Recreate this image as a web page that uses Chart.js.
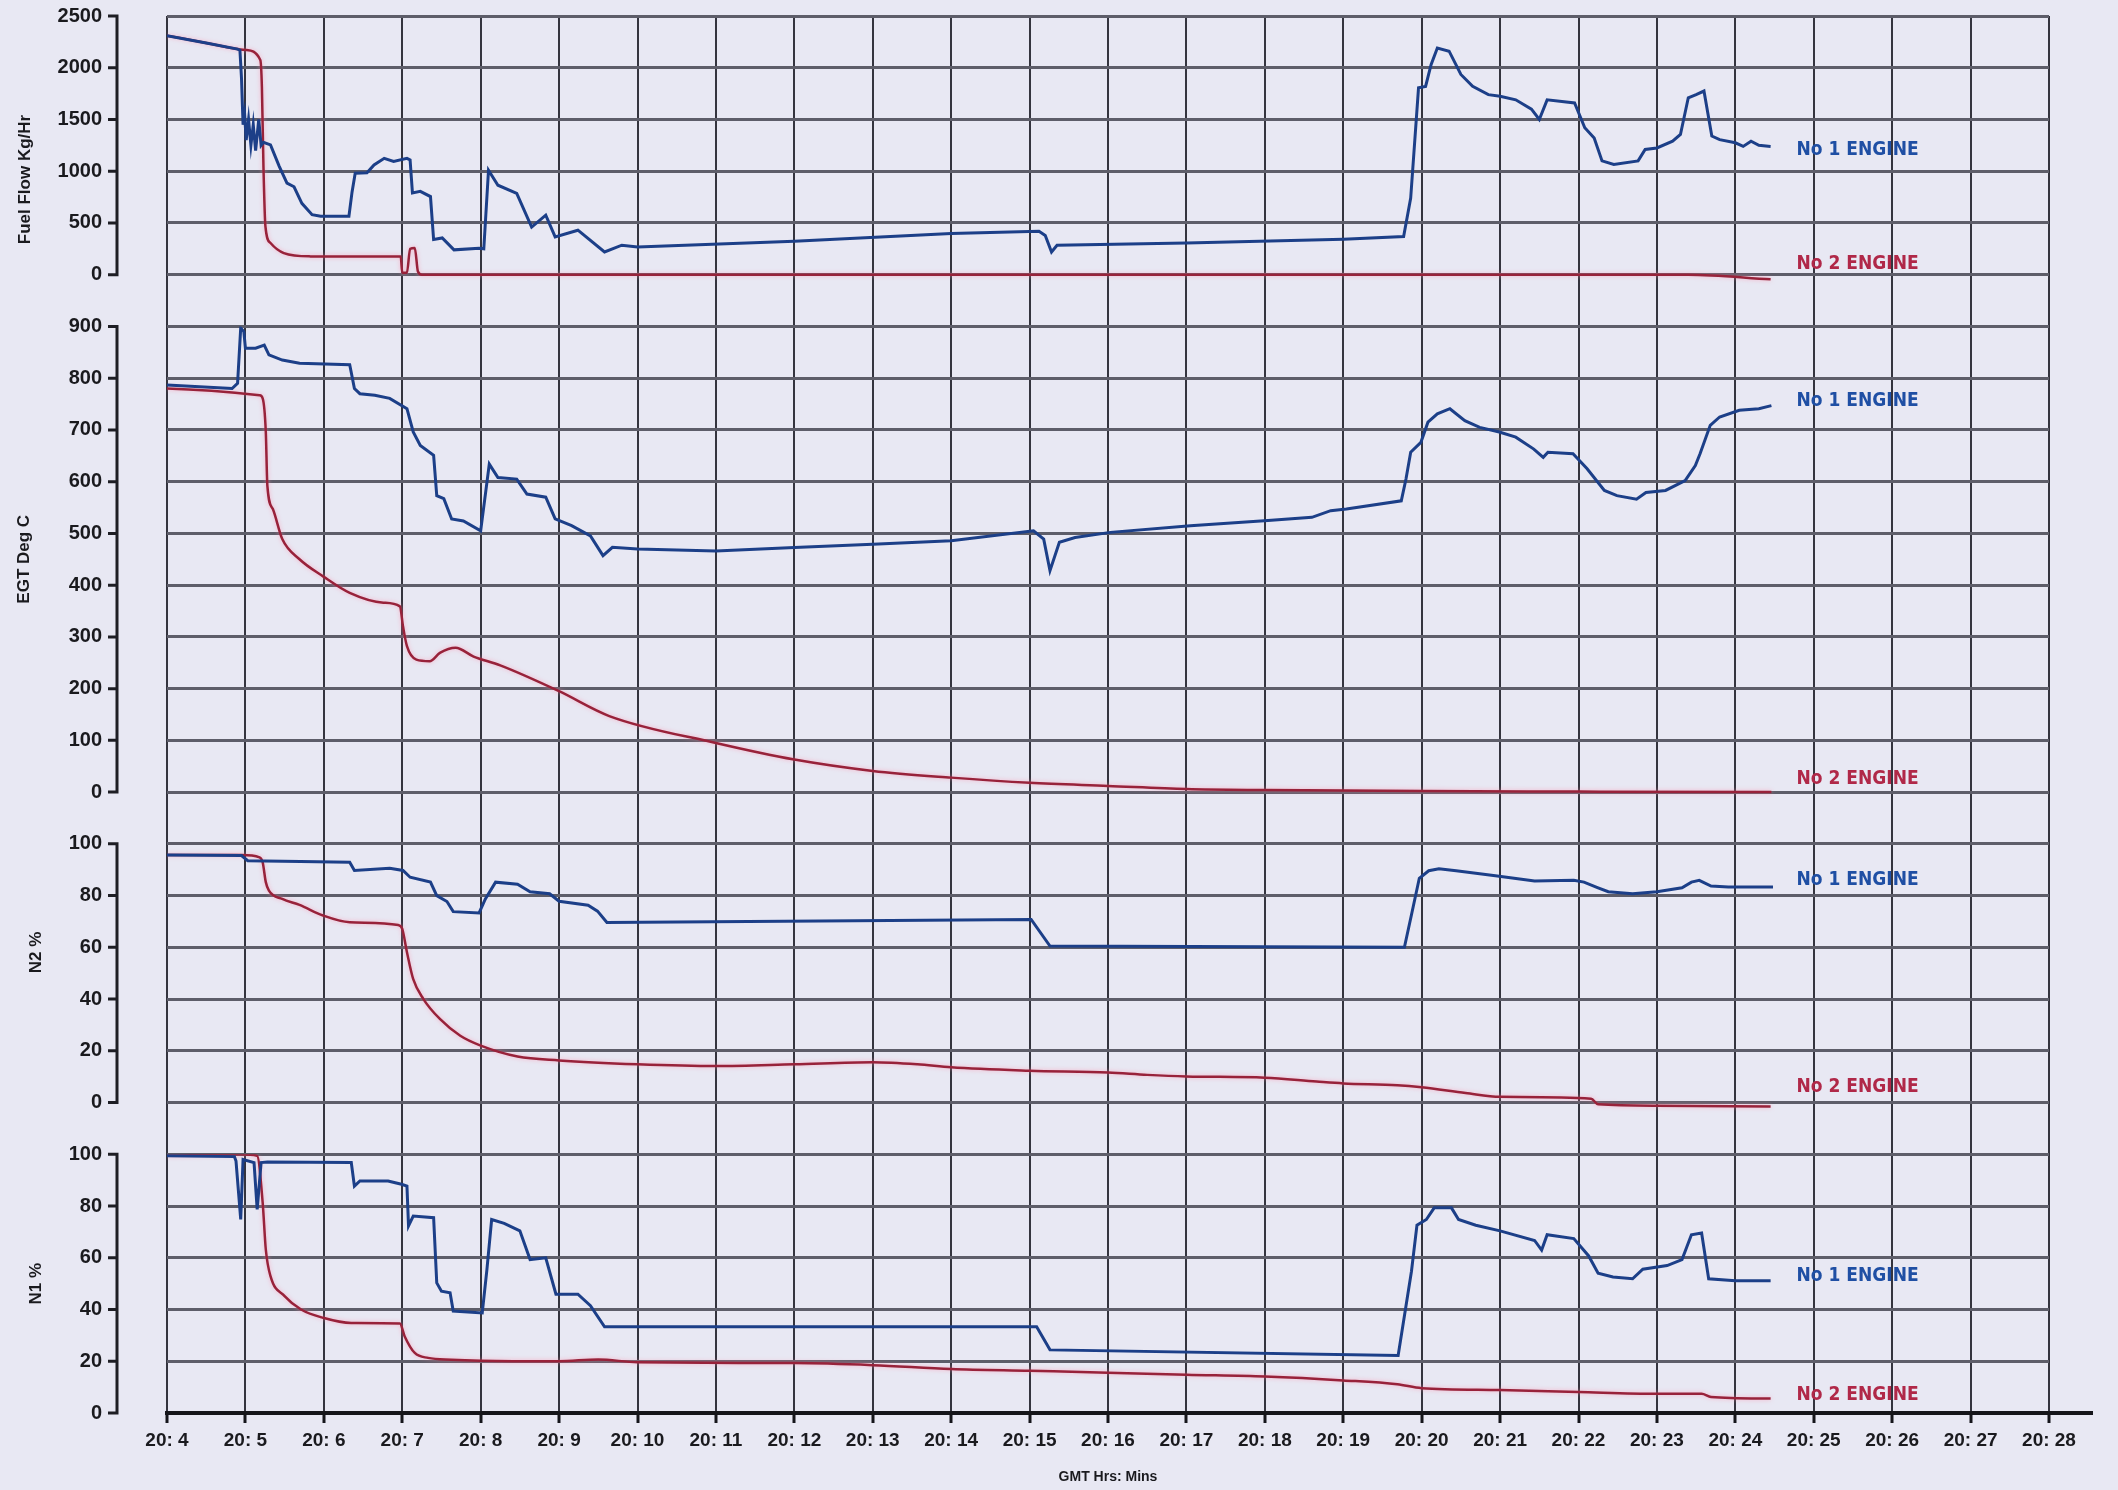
<!DOCTYPE html>
<html>
<head>
<meta charset="utf-8">
<script src="https://cdn.jsdelivr.net/npm/chart.js@4.4.1/dist/chart.umd.min.js"></script>
<style>
  html, body { margin: 0; padding: 0; background: #e8e8f3; }
  canvas { display: block; }
</style>
</head>
<body>
<canvas id="grafico" width="2118" height="1490"></canvas>
<script>
// eje x: minutos despues de las 20:00
const minutos = [4, 5, 6, 7, 8, 9, 10, 11, 12, 13, 14, 15, 16, 17, 18, 19, 20, 21, 22, 23, 24, 25, 26, 27, 28];
const etiquetasHora = ['20: 4', '20: 5', '20: 6', '20: 7', '20: 8', '20: 9', '20: 10', '20: 11', '20: 12',
  '20: 13', '20: 14', '20: 15', '20: 16', '20: 17', '20: 18', '20: 19', '20: 20', '20: 21', '20: 22',
  '20: 23', '20: 24', '20: 25', '20: 26', '20: 27', '20: 28'];

// Fuel Flow Kg/Hr  [minuto, valor]
const fuelMotor1 = [[4.0, 2310], [4.5, 2240], [4.9, 2180], [4.93, 2170], [4.95, 1900], [4.97, 1450], [4.99, 1550],
  [5.01, 1300], [5.04, 1500], [5.07, 1250], [5.1, 1450], [5.13, 1200], [5.17, 1500], [5.2, 1250], [5.23, 1280],
  [5.32, 1255], [5.43, 1050], [5.53, 885], [5.62, 850], [5.72, 690], [5.85, 580], [5.96, 565], [6.32, 565],
  [6.36, 800], [6.4, 980], [6.55, 985], [6.64, 1060], [6.77, 1125], [6.89, 1095], [7.06, 1125], [7.1, 1110],
  [7.13, 790], [7.23, 805], [7.36, 755], [7.4, 340], [7.51, 355], [7.66, 240], [7.98, 255], [8.04, 250],
  [8.1, 1010], [8.22, 865], [8.46, 785], [8.65, 460], [8.83, 575], [8.95, 365], [9.24, 430], [9.58, 220],
  [9.8, 285], [10, 268], [12, 323], [14, 397], [15.12, 420], [15.2, 380], [15.28, 220], [15.35, 285], [17, 306],
  [19, 342], [19.77, 368], [19.86, 740], [19.96, 1806], [20.05, 1820], [20.12, 2030], [20.2, 2190], [20.35, 2160],
  [20.5, 1935], [20.65, 1820], [20.85, 1740], [21.0, 1725], [21.2, 1690], [21.4, 1600], [21.5, 1500], [21.6, 1690],
  [21.95, 1660], [22.08, 1420], [22.2, 1320], [22.3, 1100], [22.45, 1065], [22.76, 1100], [22.85, 1210],
  [23.0, 1225], [23.2, 1290], [23.3, 1355], [23.4, 1710], [23.5, 1740], [23.6, 1775], [23.7, 1340], [23.8, 1305],
  [24.0, 1275], [24.1, 1240], [24.2, 1290], [24.3, 1250], [24.45, 1240]];
const fuelMotor2 = [[4.0, 2310], [4.5, 2240], [5.0, 2172], [5.19, 2075], [5.21, 1818], [5.23, 1046], [5.255, 467],
  [5.32, 306], [5.49, 209], [5.83, 177], [6.5, 175], [6.98, 177], [7.0, 20], [7.06, 20], [7.1, 250], [7.16, 257],
  [7.2, 30], [7.25, 0], [23.4, 0], [24.45, -45]];

// EGT Deg C
const egtMotor1 = [[4.0, 787], [4.83, 780], [4.9, 790], [4.94, 897], [4.98, 890], [5.0, 858], [5.13, 858],
  [5.24, 864], [5.3, 845], [5.47, 835], [5.69, 829], [6.33, 826], [6.39, 780], [6.46, 770], [6.65, 767],
  [6.84, 761], [7.06, 741], [7.14, 696], [7.23, 670], [7.4, 651], [7.44, 573], [7.53, 567], [7.63, 528],
  [7.78, 524], [8.0, 505], [8.11, 634], [8.22, 608], [8.46, 605], [8.59, 576], [8.83, 570], [8.95, 528],
  [9.16, 515], [9.4, 495], [9.56, 457], [9.68, 473], [10, 470], [11, 466], [12, 473], [13, 479], [14, 486],
  [15.05, 505], [15.18, 489], [15.26, 428], [15.38, 483], [15.58, 492], [16.03, 502], [17.05, 515], [18.04, 525],
  [18.6, 531], [18.84, 544], [19.04, 547], [19.74, 563], [19.8, 605], [19.86, 657], [19.99, 676], [20.08, 715],
  [20.2, 731], [20.36, 741], [20.55, 718], [20.74, 705], [20.99, 696], [21.2, 686], [21.43, 663], [21.55, 647],
  [21.61, 657], [21.93, 654], [22.11, 625], [22.33, 583], [22.49, 573], [22.74, 566], [22.86, 579], [23.11, 583],
  [23.36, 602], [23.49, 631], [23.55, 654], [23.68, 709], [23.8, 725], [24.05, 738], [24.3, 741], [24.46, 747]];
const egtMotor2 = [[4.0, 780], [5.18, 767], [5.22, 761], [5.26, 696], [5.28, 592], [5.35, 547], [5.47, 489],
  [5.69, 450], [5.99, 417], [6.33, 385], [6.76, 366], [6.97, 359], [7.01, 320], [7.06, 282], [7.18, 256],
  [7.35, 253], [7.48, 269], [7.68, 279], [7.91, 262], [8.25, 245], [9.0, 195], [9.64, 147], [11, 95], [12, 63],
  [13, 41], [14, 28], [15, 18], [16, 12], [17, 6], [18, 4], [20, 2], [22, 1], [24.46, 0]];

// N2 %
const n2Motor1 = [[4.0, 95.7], [4.95, 95.5], [5.03, 93.5], [5.7, 93.2], [6.33, 92.9], [6.39, 89.7], [6.84, 90.6],
  [7.01, 89.7], [7.1, 87.1], [7.36, 85.2], [7.44, 80], [7.57, 77.7], [7.65, 73.8], [7.98, 73.3], [8.06, 78.7],
  [8.19, 85.2], [8.47, 84.4], [8.63, 81.5], [8.88, 80.7], [9.0, 77.8], [9.37, 76.3], [9.49, 74], [9.61, 69.6],
  [15.02, 70.8], [15.26, 60.5], [19.78, 60], [19.87, 72.6], [19.97, 86.7], [20.09, 89.6], [20.22, 90.4],
  [20.44, 89.6], [20.94, 87.7], [21.44, 85.6], [21.94, 85.9], [22.07, 85.2], [22.25, 83], [22.38, 81.5],
  [22.69, 80.7], [23.0, 81.5], [23.32, 83], [23.44, 85.2], [23.54, 85.9], [23.69, 83.7], [23.91, 83.3],
  [24.48, 83.3]];
const n2Motor2 = [[4.0, 95.7], [4.95, 95.7], [5.18, 94.8], [5.22, 92.9], [5.26, 85.2], [5.3, 81.9], [5.47, 78.7],
  [5.69, 76.4], [5.99, 72.3], [6.33, 69.7], [6.95, 68.6], [7.0, 67.1], [7.06, 58.1], [7.14, 47.7], [7.27, 40],
  [7.48, 32.3], [7.74, 25.8], [8.0, 22], [8.47, 17.8], [9.0, 16.3], [10, 14.8], [11, 14.1], [12, 14.8], [13, 15.6],
  [13.57, 14.8], [14, 13.6], [15, 12.3], [16, 11.6], [16.5, 10.7], [17, 10.1], [18, 9.6], [18.66, 8.1], [19, 7.4],
  [19.69, 6.7], [20, 5.9], [20.56, 3.7], [21, 2.2], [22.16, 1.5], [22.25, -0.7], [23, -1.2], [24.45, -1.5]];

// N1 %
const n1Motor1 = [[4.0, 99.4], [4.86, 99.1], [4.88, 97.4], [4.94, 74.8], [4.97, 98], [5.11, 96.8], [5.15, 78.7],
  [5.2, 96.8], [5.28, 97], [6.35, 96.8], [6.39, 87.7], [6.46, 89.7], [6.82, 89.7], [6.99, 88.4], [7.06, 87.7],
  [7.08, 72.3], [7.14, 76.1], [7.4, 75.5], [7.44, 50.3], [7.5, 47.1], [7.61, 46.5], [7.65, 39.4], [8.02, 38.7],
  [8.08, 55.5], [8.14, 74.8], [8.3, 73.3], [8.5, 70.4], [8.63, 59.3], [8.83, 60], [8.96, 45.9], [9.24, 45.9],
  [9.4, 41.5], [9.58, 33.3], [15.09, 33.3], [15.26, 24.4], [19.7, 22.2], [19.87, 54.8], [19.94, 72.6],
  [20.06, 74.8], [20.16, 79.3], [20.38, 79.3], [20.47, 74.8], [20.69, 72.6], [21.0, 70.4], [21.44, 66.7],
  [21.53, 63], [21.6, 68.9], [21.94, 67.4], [22.13, 60.7], [22.25, 54], [22.44, 52.6], [22.69, 51.9],
  [22.82, 55.6], [23.13, 57], [23.32, 59.3], [23.44, 68.9], [23.57, 69.6], [23.66, 51.9], [24.0, 51.1],
  [24.45, 51.1]];
const n1Motor2 = [[4.0, 99.4], [4.94, 100], [5.15, 99.4], [5.22, 81.3], [5.26, 63.2], [5.32, 52.9], [5.5, 45.2],
  [5.71, 40], [5.99, 36.8], [6.35, 34.8], [6.97, 34.6], [7.03, 29.7], [7.16, 23.2], [7.33, 21.3], [7.63, 20.6],
  [8.0, 20.2], [9.0, 20], [9.5, 20.7], [10, 19.6], [12, 19.3], [13, 18.5], [14, 17], [15, 16.3], [16, 15.6],
  [17, 14.8], [18, 14.1], [19, 12.6], [19.69, 11.1], [20, 9.6], [21, 8.9], [22, 8.1], [23, 7.4], [23.57, 7.4],
  [23.69, 6.2], [24.45, 5.6]];

const AZUL = '#1c3f88';
const ROJO = '#98223a';
const fuente = '"Liberation Sans", Arial, sans-serif';
const fuenteEstrecha = '"Liberation Sans Narrow", "DejaVu Sans Condensed", sans-serif';

const puntos = arr => arr.map(([x, y]) => ({ x, y }));

// cada panel: su eje, rango visible y titulo
const paneles = [
  { eje: 'yFuel', max: 2500, paso: 500, titulo: 'Fuel Flow Kg/Hr', tituloV: 920, tituloX: 25, motor1: 1200, motor2: 100 },
  { eje: 'yEgt', max: 900, paso: 100, titulo: 'EGT Deg C', tituloV: 450, tituloX: 24, motor1: 755, motor2: 25 },
  { eje: 'yN2', max: 100, paso: 20, titulo: 'N2 %', tituloV: 58, tituloX: 36, motor1: 86, motor2: 6 },
  { eje: 'yN1', max: 100, paso: 20, titulo: 'N1 %', tituloV: 50, tituloX: 36, motor1: 53, motor2: 7 }
];

// linea de eje y separada de la grilla, titulos y rotulos de motor
const ejesIzquierda = {
  id: 'ejesIzquierda',
  beforeDatasetDraw(chart, args) {
    const ds = chart.data.datasets[args.index];
    chart.ctx.save();
    if (ds.borderColor === ROJO) {
      chart.ctx.shadowColor = 'rgba(255, 140, 170, 0.6)';
      chart.ctx.shadowBlur = 4;
    }
  },
  afterDatasetDraw(chart) {
    chart.ctx.restore();
  },
  afterDraw(chart) {
    const ctx = chart.ctx;
    const xs = chart.scales.x;

    // el eje x se prolonga un poco a la derecha de la grilla
    ctx.save();
    ctx.strokeStyle = '#15151a';
    ctx.lineWidth = 4;
    ctx.beginPath();
    ctx.moveTo(xs.right, xs.top);
    ctx.lineTo(xs.right + 44, xs.top);
    ctx.stroke();
    ctx.restore();

    paneles.forEach(p => {
      const s = chart.scales[p.eje];
      const x = s.right - 50;
      ctx.save();
      ctx.strokeStyle = '#1e1e24';
      ctx.lineWidth = 3;
      ctx.beginPath();
      ctx.moveTo(x, s.getPixelForValue(p.max) - 1.5);
      ctx.lineTo(x, s.getPixelForValue(0) + 1.5);
      for (let v = 0; v <= p.max; v += p.paso) {
        const y = s.getPixelForValue(v);
        ctx.moveTo(x - 9, y);
        ctx.lineTo(x, y);
      }
      ctx.stroke();

      ctx.font = 'bold 17px ' + fuente;
      ctx.fillStyle = '#1a1a1e';
      ctx.textAlign = 'center';
      ctx.textBaseline = 'middle';
      ctx.translate(p.tituloX, s.getPixelForValue(p.tituloV));
      ctx.rotate(-Math.PI / 2);
      ctx.fillText(p.titulo, 0, 0);
      ctx.restore();

      ctx.save();
      ctx.font = 'bold 19px ' + fuenteEstrecha;
      ctx.textAlign = 'left';
      ctx.textBaseline = 'middle';
      ctx.fillStyle = '#1f4fa4';
      ctx.fillText('No 1 ENGINE', xs.getPixelForValue(24.78), s.getPixelForValue(p.motor1));
      ctx.fillStyle = '#b02848';
      ctx.fillText('No 2 ENGINE', xs.getPixelForValue(24.78), s.getPixelForValue(p.motor2));
      ctx.restore();
    });
  }
};

function ejeY(min, max, paso, peso) {
  return {
    type: 'linear',
    position: 'left',
    stack: 'paneles',
    stackWeight: peso,
    min: min,
    max: max,
    afterFit: s => {
      s.width = 167;
      // el padding de las etiquetas no debe empujar el area del grafico
      s.paddingTop = 10;
      s.paddingBottom = 10;
    },
    border: { display: false },
    grid: { color: '#5d5d69', lineWidth: 3, drawTicks: false },
    ticks: {
      stepSize: paso,
      autoSkip: false,
      padding: 65,
      color: '#1a1a1e',
      font: { family: fuente, size: 20, weight: 'bold' },
      callback: v => (v >= 0 ? v : '')
    }
  };
}

function serie(datos, color, eje, ancho, suave) {
  return {
    data: puntos(datos),
    yAxisID: eje,
    borderColor: color,
    borderWidth: ancho,
    pointRadius: 0,
    fill: false,
    cubicInterpolationMode: suave ? 'monotone' : 'default',
    tension: 0
  };
}

new Chart(document.getElementById('grafico').getContext('2d'), {
  type: 'line',
  data: {
    datasets: [
      serie(fuelMotor1, AZUL, 'yFuel', 3, false),
      serie(egtMotor1, AZUL, 'yEgt', 3, false),
      serie(n2Motor1, AZUL, 'yN2', 3, false),
      serie(n1Motor1, AZUL, 'yN1', 3, false),
      serie(fuelMotor2, ROJO, 'yFuel', 2.5, true),
      serie(egtMotor2, ROJO, 'yEgt', 2.5, true),
      serie(n2Motor2, ROJO, 'yN2', 2.5, true),
      serie(n1Motor2, ROJO, 'yN1', 2.5, true)
    ]
  },
  options: {
    responsive: false,
    animation: false,
    layout: { padding: { top: 16, right: 69, left: 0, bottom: 0 } },
    plugins: { legend: { display: false }, tooltip: { enabled: false } },
    scales: {
      x: {
        type: 'linear',
        min: minutos[0],
        max: minutos[minutos.length - 1],
        afterFit: s => { s.height = 77; },
        border: { display: true, color: '#15151a', width: 4 },
        grid: { color: '#34343e', lineWidth: 2, tickLength: 10, tickColor: '#15151a', tickWidth: 3 },
        ticks: {
          stepSize: 1,
          autoSkip: false,
          maxRotation: 0,
          padding: 6,
          color: '#1a1a1e',
          font: { family: fuente, size: 19, weight: 'bold' },
          callback: v => etiquetasHora[minutos.indexOf(v)] || ''
        },
        title: {
          display: true,
          text: 'GMT Hrs: Mins',
          color: '#1a1a1e',
          font: { family: fuente, size: 14, weight: 'bold' },
          padding: { top: 0, bottom: 4 }
        }
      },
      yN1: ejeY(0, 100, 20, 5),
      yN2: ejeY(-20, 100, 20, 6),
      yEgt: ejeY(-100, 900, 100, 10),
      yFuel: ejeY(-500, 2500, 500, 6)
    }
  },
  plugins: [ejesIzquierda]
});
</script>
</body>
</html>
